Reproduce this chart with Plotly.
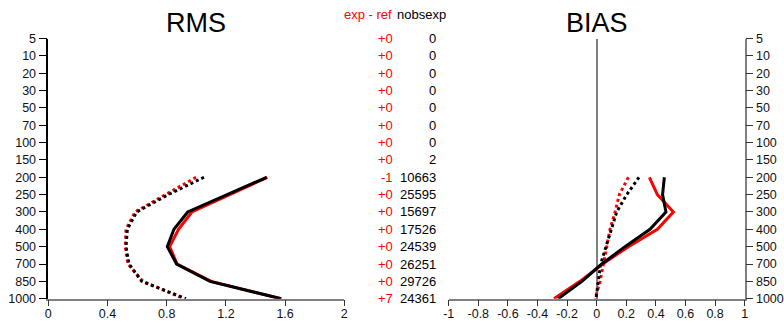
import plotly.graph_objects as go

W, H = 784, 324

levels = ["5", "10", "20", "30", "50", "70", "100", "150", "200", "250",
          "300", "400", "500", "700", "850", "1000"]
diff_txt = ["+0", "+0", "+0", "+0", "+0", "+0", "+0", "+0", "-1", "+0",
            "+0", "+0", "+0", "+0", "+0", "+7"]
nobs = [0, 0, 0, 0, 0, 0, 0, 2, 10663, 25595, 15697, 17526, 24539, 26251,
        29726, 24361]

prof_levels = ["200", "250", "300", "400", "500", "700", "850", "1000"]

rms_exp_solid = [1.48, 1.22, 0.97, 0.88, 0.82, 0.87, 1.10, 1.575]
rms_ref_solid = [1.475, 1.21, 0.942, 0.849, 0.804, 0.867, 1.093, 1.572]
rms_exp_dot = [0.998, 0.79, 0.586, 0.525, 0.52, 0.538, 0.64, 0.917]
rms_ref_dot = [1.052, 0.81, 0.597, 0.534, 0.525, 0.545, 0.631, 0.93]

bias_exp_solid = [0.356, 0.41, 0.518, 0.41, 0.214, 0.04, -0.113, -0.289]
bias_ref_solid = [0.457, 0.445, 0.468, 0.36, 0.191, 0.034, -0.10, -0.26]
bias_exp_dot = [0.214, 0.153, 0.124, 0.09, 0.068, 0.045, 0.023, -0.011]
bias_ref_dot = [0.286, 0.203, 0.135, 0.097, 0.063, 0.027, 0.011, -0.005]

rms_ticks = [0, 0.4, 0.8, 1.2, 1.6, 2]
bias_ticks = [-1, -0.8, -0.6, -0.4, -0.2, 0, 0.2, 0.4, 0.6, 0.8, 1]

RED = "#ff0000"
BLACK = "#000000"
GRAY = "#808080"
FONT = "Liberation Sans, Arial, sans-serif"

yidx = {l: i for i, l in enumerate(levels)}
py = [yidx[l] for l in prof_levels]

fig = go.Figure()


def add(x, color, dash, xa, ya):
    fig.add_trace(go.Scatter(x=x, y=py, mode="lines", xaxis=xa, yaxis=ya,
                             line=dict(color=color, width=3, dash=dash),
                             showlegend=False, hoverinfo="skip"))


add(rms_exp_dot, RED, "dot", "x", "y")
add(rms_ref_dot, BLACK, "dot", "x", "y")
add(rms_exp_solid, RED, "solid", "x", "y")
add(rms_ref_solid, BLACK, "solid", "x", "y")
add(bias_exp_dot, RED, "dot", "x2", "y2")
add(bias_ref_dot, BLACK, "dot", "x2", "y2")
add(bias_exp_solid, RED, "solid", "x2", "y2")
add(bias_ref_solid, BLACK, "solid", "x2", "y2")

ytop, ybot = 38.5, 298.7
ydom = [1 - ybot / H, 1 - ytop / H]

tickfont = dict(family=FONT, size=12.5, color="#111111")

fig.update_layout(
    width=W, height=H,
    margin=dict(l=0, r=0, t=0, b=0, autoexpand=False),
    paper_bgcolor="white", plot_bgcolor="white",
    font=dict(family=FONT),
    xaxis=dict(domain=[48.3 / W, 344.3 / W], range=[0, 2],
               tickvals=rms_ticks, ticktext=[f"{v:g}" for v in rms_ticks],
               showgrid=False, zeroline=False, showline=True,
               linecolor=GRAY, linewidth=1.5, ticks="outside", ticklen=6,
               tickcolor="#333333", tickwidth=1, tickfont=tickfont,
               ticklabelstandoff=-3, anchor="y", automargin=False),
    yaxis=dict(domain=ydom, range=[15, 0], tickvals=list(range(16)),
               ticktext=levels, showgrid=False, zeroline=False,
               showline=True, linecolor=BLACK, linewidth=1.5,
               ticks="outside", ticklen=8, tickcolor=BLACK, tickwidth=1,
               tickfont=tickfont, anchor="x", automargin=False),
    xaxis2=dict(domain=[448.7 / W, 744.7 / W], range=[-1, 1],
                tickvals=bias_ticks, ticktext=[f"{v:g}" for v in bias_ticks],
                showgrid=False, zeroline=True, zerolinecolor=GRAY,
                zerolinewidth=1.5, showline=True, linecolor=GRAY,
                linewidth=1.5, ticks="outside", ticklen=6,
                tickcolor="#333333", tickwidth=1, tickfont=tickfont,
                ticklabelstandoff=-3, anchor="y2", automargin=False),
    yaxis2=dict(domain=ydom, range=[15, 0], tickvals=list(range(16)),
                ticktext=levels, showgrid=False, zeroline=False,
                showline=True, linecolor=GRAY, linewidth=1.5,
                ticks="outside", ticklen=7, tickcolor="#333333", tickwidth=1,
                tickfont=tickfont, side="right", anchor="x2",
                automargin=False),
)

ann = []
ann.append(dict(text="RMS", x=196.3 / W, y=1 - 22.8 / H, xref="paper",
                yref="paper", xanchor="center", yanchor="middle",
                showarrow=False, font=dict(family=FONT, size=27, color=BLACK)))
ann.append(dict(text="BIAS", x=597 / W, y=1 - 22.8 / H, xref="paper",
                yref="paper", xanchor="center", yanchor="middle",
                showarrow=False, font=dict(family=FONT, size=27, color=BLACK)))
ann.append(dict(text="exp - ref", x=394 / W, y=1 - 15 / H, xref="paper",
                yref="paper", xanchor="right", yanchor="middle",
                showarrow=False, font=dict(family=FONT, size=13, color=RED)))
ann.append(dict(text="nobsexp", x=395 / W, y=1 - 15 / H, xref="paper",
                yref="paper", xanchor="left", yanchor="middle",
                showarrow=False, font=dict(family=FONT, size=13, color=BLACK)))
for i in range(len(levels)):
    ann.append(dict(text=diff_txt[i], x=394.5 / W, y=i, xref="paper",
                    yref="y", xanchor="right", yanchor="middle",
                    showarrow=False,
                    font=dict(family=FONT, size=13, color=RED)))
    ann.append(dict(text=str(nobs[i]), x=438 / W, y=i, xref="paper",
                    yref="y", xanchor="right", yanchor="middle",
                    showarrow=False,
                    font=dict(family=FONT, size=13, color=BLACK)))
fig.update_layout(annotations=ann)

fig.write_html("out.html",
               config={"displayModeBar": False},
               post_script="document.body.style.margin='0px';"
                           "document.body.style.overflow='hidden';")
